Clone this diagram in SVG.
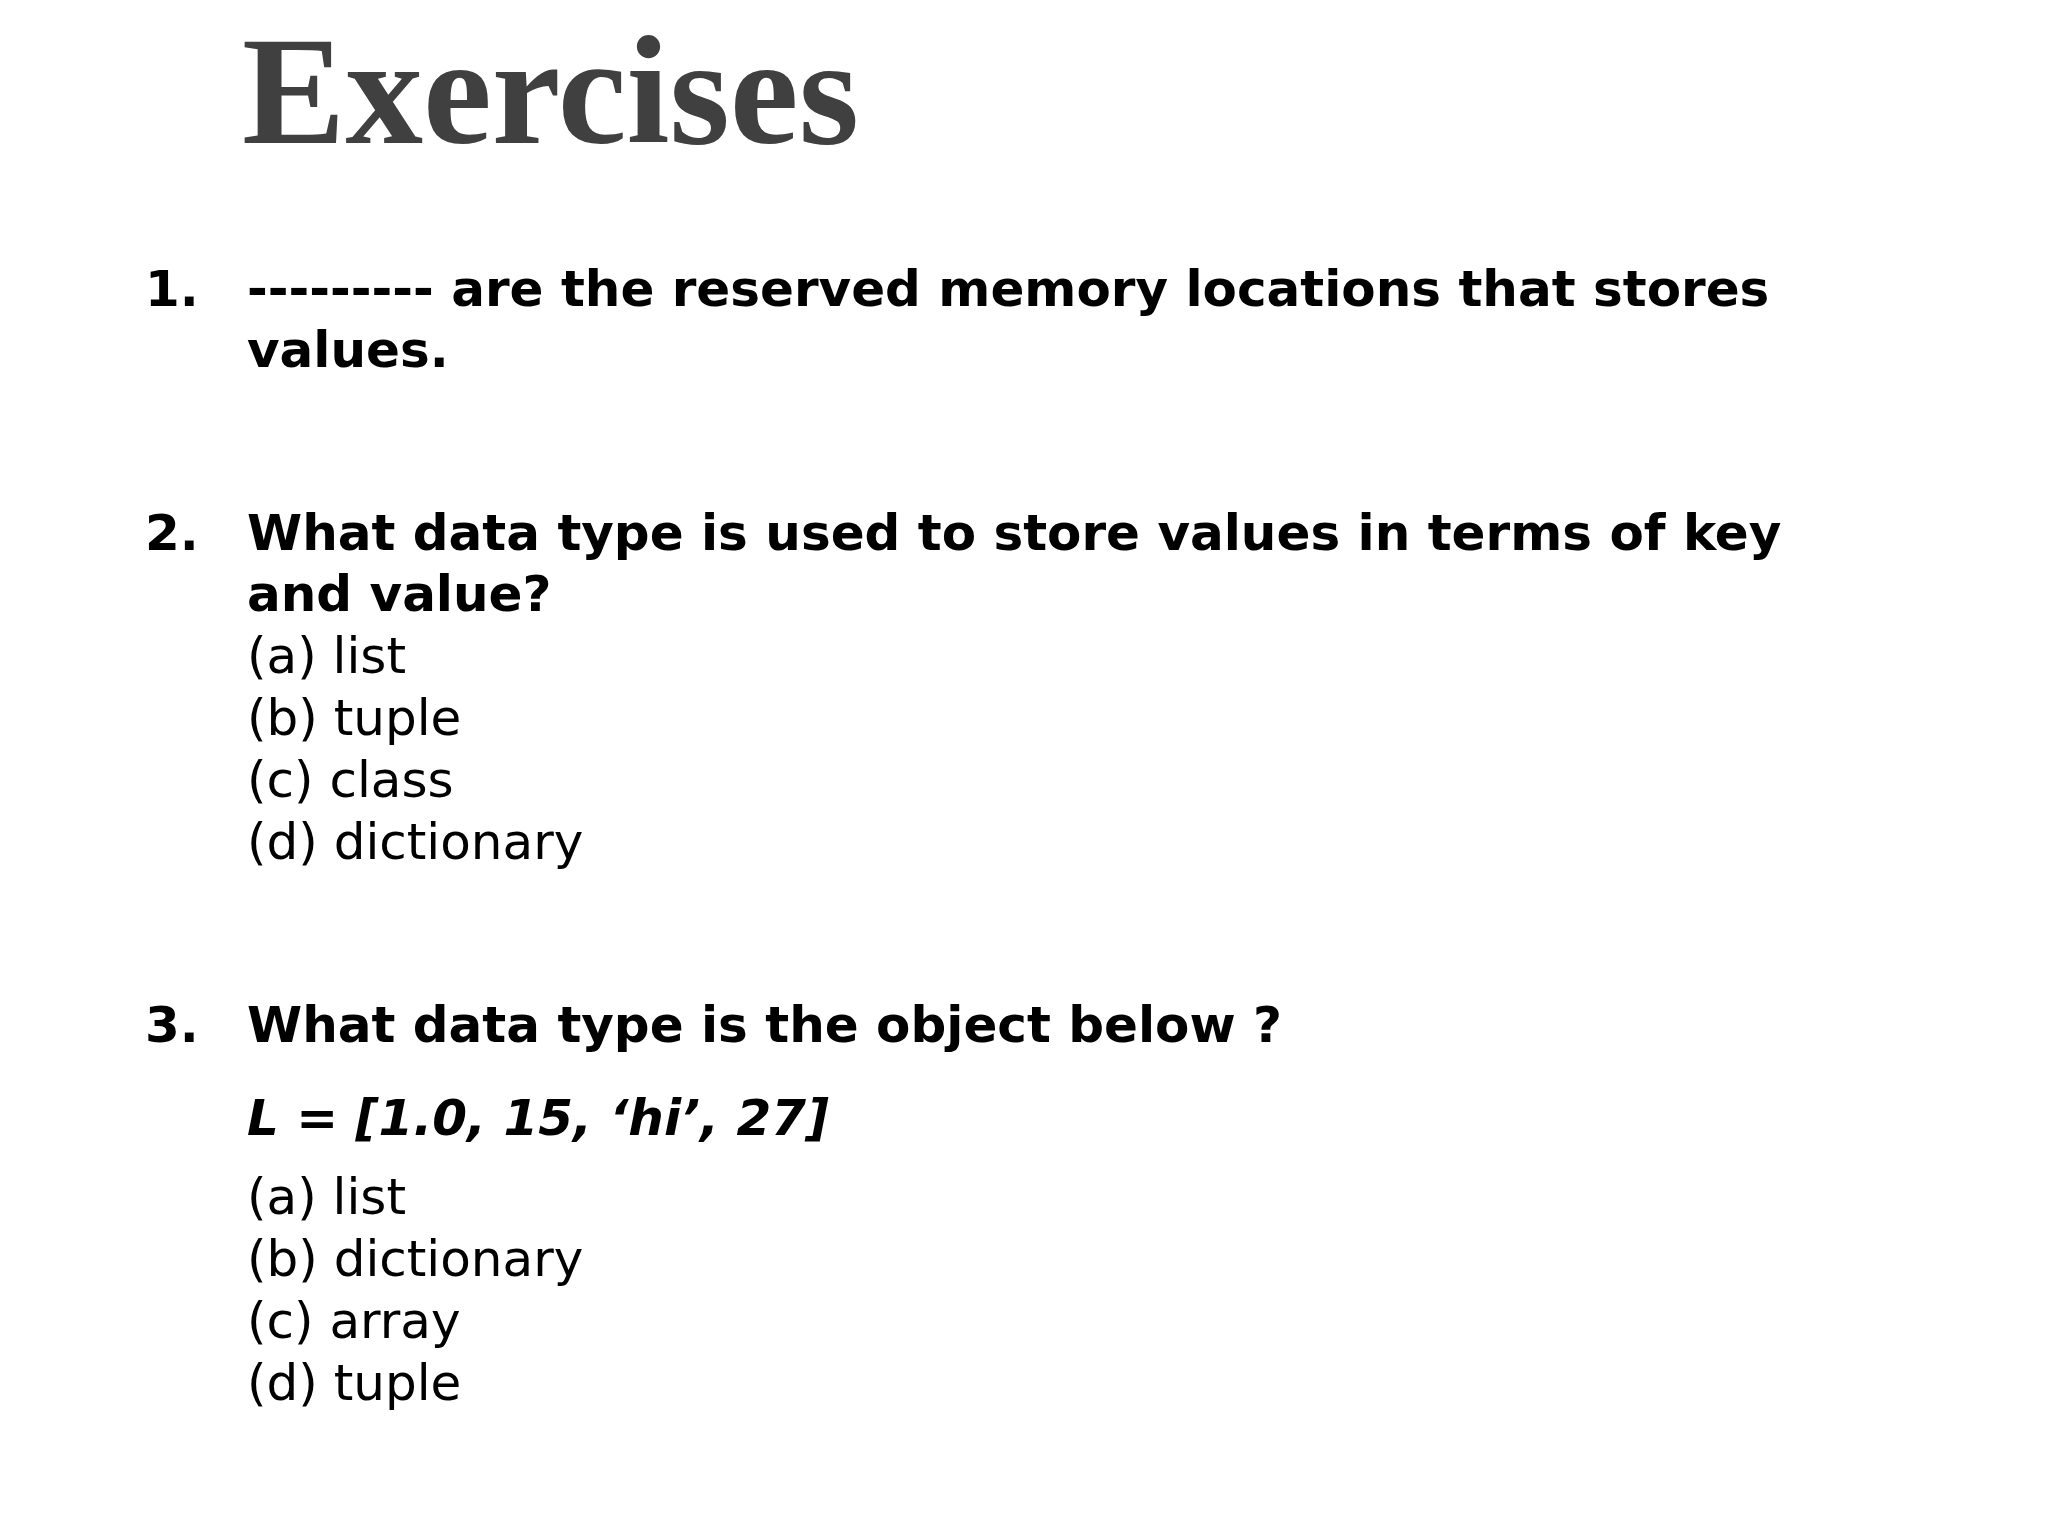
<svg xmlns="http://www.w3.org/2000/svg" width="2048" height="1536" viewBox="0 0 2048 1536">
<style>
.t{font-family:"DejaVu Sans",Verdana,sans-serif;font-size:50px;fill:#000}
.b{font-weight:bold}
.h{font-family:"Liberation Serif","Times New Roman",serif;font-weight:bold;font-size:155px;fill:#404040}
</style>
<rect width="2048" height="1536" fill="#fff"/>
<text class="h" x="242" y="143">Exercises</text>
<g id="q1" class="t b">
<text x="145" y="306">1.</text>
<text x="247" y="306">--------- are the reserved memory locations that stores</text>
<text x="247" y="367">values.</text>
</g>
<g id="q2" class="t">
<text class="b" x="145" y="550">2.</text>
<text class="b" x="247" y="550">What data type is used to store values in terms of key</text>
<text class="b" x="247" y="611">and value?</text>
<text x="247" y="673">(a) list</text>
<text x="247" y="735">(b) tuple</text>
<text x="247" y="797">(c) class</text>
<text x="247" y="859">(d) dictionary</text>
</g>
<g id="q3" class="t">
<text class="b" x="145" y="1042">3.</text>
<text class="b" x="247" y="1042">What data type is the object below ?</text>
<text class="b" x="247" y="1135" font-style="italic">L = [1.0, 15, ‘hi’, 27]</text>
<text x="247" y="1214">(a) list</text>
<text x="247" y="1276">(b) dictionary</text>
<text x="247" y="1338">(c) array</text>
<text x="247" y="1400">(d) tuple</text>
</g>
</svg>
